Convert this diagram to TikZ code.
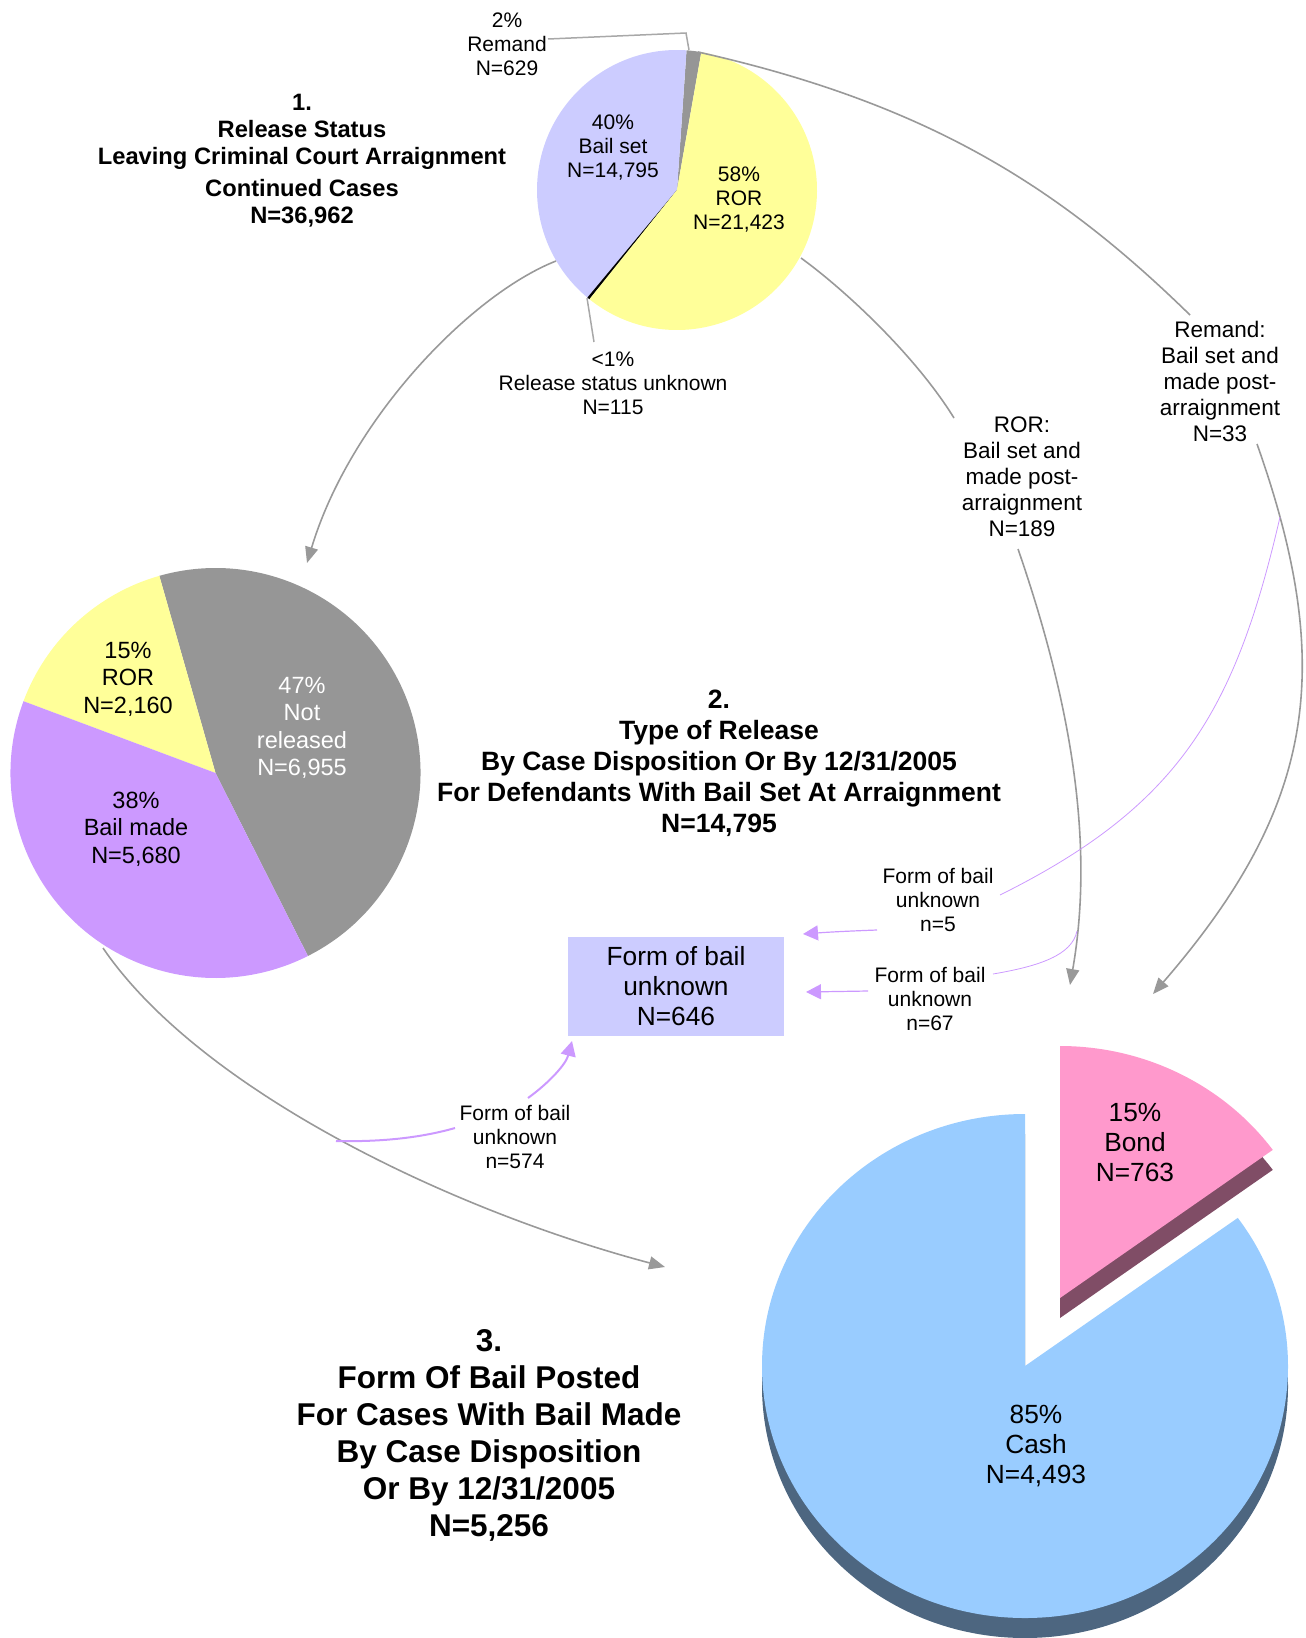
\documentclass[tikz,border=0pt]{standalone}
\usepackage{fontspec}
\setmainfont{Liberation Sans}
\usetikzlibrary{arrows.meta}
\definecolor{lav}{HTML}{CCCCFF}
\definecolor{ylw}{HTML}{FFFF99}
\definecolor{gry}{HTML}{969696}
\definecolor{pur}{HTML}{CC99FF}
\definecolor{pnk}{HTML}{FF99CC}
\definecolor{pnkd}{HTML}{804D66}
\definecolor{sky}{HTML}{99CCFF}
\definecolor{skyd}{HTML}{4D6680}
\definecolor{conn}{HTML}{999999}
\definecolor{lead}{HTML}{A8A8A8}
\begin{document}
\begin{tikzpicture}[x=1pt,y=-1pt,
  flow/.style={draw=conn, line width=1.6pt, -{Triangle[length=16pt,width=13pt]}},
  flowline/.style={draw=conn, line width=1.6pt},
  pflow/.style={draw=pur, line width=1.2pt, -{Triangle[length=15pt,width=15pt]}},
  pflowthick/.style={draw=pur, line width=2pt, -{Triangle[length=15pt,width=15pt]}},
  pline/.style={draw=pur, line width=0.8pt},
  plinethick/.style={draw=pur, line width=2pt},
  leader/.style={draw=lead, line width=1.5pt},
  small/.style={align=center, inner sep=0pt, font=\fontsize{21}{24}\selectfont},
  mid/.style={align=center, inner sep=0pt, font=\fontsize{22.5}{26}\selectfont},
  pietwo/.style={align=center, inner sep=0pt, font=\fontsize{23.5}{27.5}\selectfont},
  big/.style={align=center, inner sep=0pt, font=\fontsize{26.3}{30}\selectfont},
]
\useasboundingbox (0,0) rectangle (1306,1638);

% ---------- pie 1 ----------
\coordinate (p1) at (677,190);
\fill[gry] (p1) -- ++(-80:140) arc[start angle=-80, end angle=-86.1, radius=140] -- cycle;
\fill[lav] (p1) -- ++(-86.1:140) arc[start angle=-86.1, end angle=-230.2, radius=140] -- cycle;
\fill[black] (p1) -- ++(-230.2:140) arc[start angle=-230.2, end angle=-231.3, radius=140] -- cycle;
\fill[ylw] (p1) -- ++(-231.3:140) arc[start angle=-231.3, end angle=-440, radius=140] -- cycle;
\node[small] (bailset) at (613,148) {40\%\\Bail set\\N=14,795};
\node[small] (ror1) at (739,200) {58\%\\ROR\\N=21,423};
\node[small] (remlbl) at (507,44) {2\%\\Remand\\N=629};
\node[small] (unklbl) at (613,383) {<1\%\\Release status unknown\\N=115};
\coordinate (remA) at (548,39);
\coordinate (remB) at (686,33);
\coordinate (remC) at (689,50);
\draw[leader] (remA) -- (remB) -- (remC);
\coordinate (unkA) at (587,298);
\coordinate (unkB) at (594,342);
\draw[leader] (unkA) -- (unkB);

\node[align=center, inner sep=0pt, font=\bfseries\fontsize{23.7}{27}\selectfont] (t1) at (302,161)
  {1.\\Release Status\\Leaving Criminal Court Arraignment\\[5pt]Continued Cases\\N=36,962};

% ---------- pie 2 ----------
\coordinate (p2) at (215.5,773);
\fill[gry] (p2) -- ++(63.2:205) arc[start angle=63.2, end angle=-105.9, radius=205] -- cycle;
\fill[ylw] (p2) -- ++(-105.9:205) arc[start angle=-105.9, end angle=-159.5, radius=205] -- cycle;
\fill[pur] (p2) -- ++(-159.5:205) arc[start angle=-159.5, end angle=-296.8, radius=205] -- cycle;
\node[pietwo] (ror2) at (128,679) {15\%\\ROR\\N=2,160};
\node[pietwo, text=white] (notrel) at (302,728) {47\%\\Not\\released\\N=6,955};
\node[pietwo] (bailmade) at (136,829) {38\%\\Bail made\\N=5,680};

\node[align=center, inner sep=0pt, font=\bfseries\fontsize{26.5}{31}\selectfont] (t2) at (719,763)
  {2.\\Type of Release\\By Case Disposition Or By 12/31/2005\\For Defendants With Bail Set At Arraignment\\N=14,795};

% ---------- pie 3 ----------
\coordinate (p3) at (1025,1366);
\coordinate (p3d) at (1025,1386);
\coordinate (p3b) at (1060,1298);
\coordinate (p3bd) at (1060,1318);
\fill[skyd] (p3d) -- ++(-90:263 and 252) arc[start angle=-90, end angle=-396, x radius=263, y radius=252] -- cycle;
\fill[sky] (p3) -- ++(-90:263 and 252) arc[start angle=-90, end angle=-396, x radius=263, y radius=252] -- cycle;
\fill[pnkd] (p3bd) -- ++(-36:263 and 252) arc[start angle=-36, end angle=-90, x radius=263, y radius=252] -- cycle;
\fill[pnk] (p3b) -- ++(-36:263 and 252) arc[start angle=-36, end angle=-90, x radius=263, y radius=252] -- cycle;
\node[big] (bond) at (1135,1142) {15\%\\Bond\\N=763};
\node[big] (cash) at (1036,1446) {85\%\\Cash\\N=4,493};

\node[align=center, inner sep=0pt, font=\bfseries\fontsize{31.5}{37}\selectfont] (t3) at (489,1435)
  {3.\\Form Of Bail Posted\\For Cases With Bail Made\\By Case Disposition\\Or By 12/31/2005\\N=5,256};

% ---------- box ----------
\node[fill=lav, minimum width=216pt, minimum height=99pt, inner sep=0pt, align=center,
      font=\fontsize{26.3}{30}\selectfont] (box) at (676,986.5) {Form of bail\\unknown\\N=646};

% ---------- labels ----------
\node[mid] (rorpost) at (1022,477) {ROR:\\Bail set and\\made post-\\arraignment\\N=189};
\node[mid] (rempost) at (1220,381) {Remand:\\Bail set and\\made post-\\arraignment\\N=33};
\node[small] (fb5) at (938,900) {Form of bail\\unknown\\n=5};
\node[small] (fb67) at (930,999) {Form of bail\\unknown\\n=67};
\node[small] (fb574) at (515,1137) {Form of bail\\unknown\\n=574};

% ---------- gray connectors ----------
\coordinate (p1w) at (556,261);
\coordinate (p2tip) at (307,563);
\draw[flow] (p1w) .. controls (470,295) and (350,420) .. (p2tip);

\coordinate (p1ror) at (801,258);
\coordinate (rorin) at (954,418);
\draw[flowline] (p1ror) .. controls (845,290) and (915,355) .. (rorin);
\coordinate (rorout) at (1018,549);
\coordinate (rortip) at (1070,985);
\draw[flow] (rorout) .. controls (1067,691) and (1096,836) .. (rortip);

\coordinate (p1rem) at (698,52);
\coordinate (remin) at (1190,315);
\draw[flowline] (p1rem) .. controls (930,104) and (1060,188) .. (remin);
\coordinate (remout) at (1257,444);
\coordinate (remtip) at (1153,994);
\draw[flow] (remout) .. controls (1337,670) and (1314,808) .. (remtip);

\coordinate (p2s) at (103,948);
\coordinate (p3tip) at (665,1267);
\draw[flow] (p2s) .. controls (200,1090) and (450,1210) .. (p3tip);

% ---------- purple connectors ----------
\coordinate (pa1) at (1280,517);
\coordinate (pa2) at (1000,895);
\draw[pline] (pa1) .. controls (1235,712) and (1179,806) .. (pa2);
\coordinate (pa3) at (877,930);
\coordinate (pa4) at (803,934);
\draw[pflow] (pa3) .. controls (850,931) and (830,932) .. (pa4);

\coordinate (pb1) at (1077,931);
\coordinate (pb2) at (993,974);
\draw[pline] (pb1) .. controls (1072,955) and (1040,966) .. (pb2);
\coordinate (pb3) at (868,991);
\coordinate (pb4) at (806,992);
\draw[pflow] (pb3) -- (pb4);

\coordinate (pc1) at (336,1141);
\coordinate (pc2) at (455,1128);
\draw[plinethick] (pc1) .. controls (380,1142) and (420,1138) .. (pc2);
\coordinate (pc3) at (528,1098);
\coordinate (pc4) at (572,1041);
\draw[pflowthick] (pc3) .. controls (550,1082) and (566,1064) .. (pc4);
\end{tikzpicture}
\end{document}
